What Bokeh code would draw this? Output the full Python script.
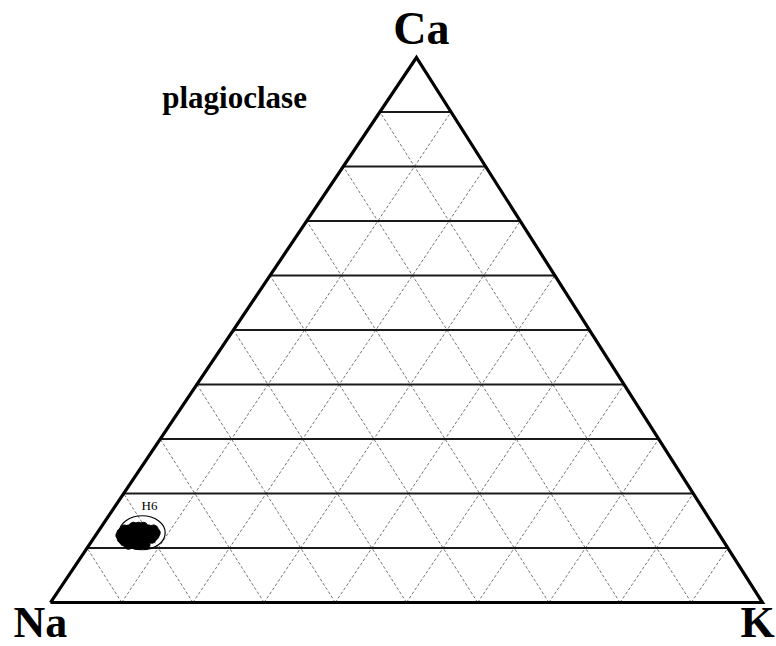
from bokeh.plotting import figure
from bokeh.models import ColumnDataSource
from bokeh.core.properties import value
from bokeh.embed import file_html
from bokeh.resources import INLINE

# Ternary end-members and grid steps (mol %)
vertices = ["Na", "K", "Ca"]
grid_levels = [10, 20, 30, 40, 50, 60, 70, 80, 90]

# H6 chondrite plagioclase analyses: Ca (An) and K (Or) in mol %
h6_ca = [13.9, 13.9, 13.9,
         13.4, 13.4, 13.4, 13.4, 13.4, 13.4, 13.4,
         12.8, 12.8, 12.8, 12.8, 12.8, 12.8, 12.8, 12.8,
         12.3, 12.3, 12.3, 12.3, 12.3, 12.3, 12.3, 12.3,
         11.7, 11.7, 11.7, 11.7, 11.7, 11.7, 11.7,
         11.2, 11.2, 11.2, 11.2, 11.2,
         10.6, 10.6, 10.6, 10.6]
h6_k = [4.5, 5.2, 5.9,
        3.5, 4.1, 4.8, 5.5, 6.2, 6.9, 7.6,
        3.4, 4.0, 4.7, 5.4, 6.1, 6.8, 7.5, 8.2,
        3.5, 4.1, 4.8, 5.5, 6.2, 6.9, 7.6, 8.3,
        4.0, 4.7, 5.4, 6.1, 6.8, 7.5, 8.2,
        4.6, 5.3, 6.0, 6.7, 7.4,
        5.5, 6.5, 7.2, 7.9]
# H6 field outline: centre (Ca, K) in mol %
h6_field_ca = 12.8
h6_field_k = 6.3

APEX = 0.514  # horizontal position of the Ca apex along the Na-K base


def to_xy(ca, k):
    """Ternary (Ca %, K %) -> plot coordinates (Na at origin, K at x=1)."""
    c = ca / 100.0
    kk = k / 100.0
    return kk + APEX * c, c


p = figure(width=776, height=646, output_backend="svg", toolbar_location=None,
           x_range=(-0.0702, 1.0197), y_range=(-0.0807, 1.1046),
           min_border=0, outline_line_color=None)
p.axis.visible = False
p.grid.visible = False
p.background_fill_color = "white"
p.border_fill_color = "white"

# Diagonal grid: constant-K and constant-Na lines
for g in grid_levels:
    x0, y0 = to_xy(0, g)
    x1, y1 = to_xy(100 - g, g)
    p.line([x0, x1], [y0, y1], line_color="#666666", line_width=0.9,
           line_dash="3 2")
    x0, y0 = to_xy(0, 100 - g)
    x1, y1 = to_xy(100 - g, 0)
    p.line([x0, x1], [y0, y1], line_color="#666666", line_width=0.9,
           line_dash="3 2")

# Horizontal grid: constant Ca
for g in grid_levels:
    x0, y0 = to_xy(g, 0)
    x1, y1 = to_xy(g, 100 - g)
    p.line([x0, x1], [y0, y1], line_color="#1a1a1a", line_width=2)

# Triangle outline
tx = [to_xy(0, 0)[0], to_xy(0, 100)[0], to_xy(100, 0)[0], to_xy(0, 0)[0]]
ty = [to_xy(0, 0)[1], to_xy(0, 100)[1], to_xy(100, 0)[1], to_xy(0, 0)[1]]
p.line(tx, ty, line_color="black", line_width=3.2, line_join="miter")

# H6 plagioclase analyses
pts = [to_xy(c, k) for c, k in zip(h6_ca, h6_k)]
src = ColumnDataSource(dict(x=[q[0] for q in pts], y=[q[1] for q in pts]))
p.scatter("x", "y", source=src, size=9, fill_color="black", line_color="black")

# H6 field outline
ex, ey = to_xy(h6_field_ca, h6_field_k)
p.ellipse(x=[ex], y=[ey], width=0.0646, height=0.0624,
          fill_color=None, line_color="black", line_width=1.2)

serif = value("Liberation Serif")
p.text(x=[0.139], y=[0.178], text=["H6"], text_align="center",
       text_baseline="middle", text_font=serif,
       text_font_size="13px", text_color="black")

# Vertex labels
p.text(x=[0.521], y=[1.0532], text=[vertices[2]], text_align="center",
       text_baseline="middle", text_font=serif, text_font_style="bold",
       text_font_size="46px", text_color="black")
p.text(x=[-0.052], y=[-0.0367], text=[vertices[0]], text_align="left",
       text_baseline="middle", text_font=serif, text_font_style="bold",
       text_font_size="44px", text_color="black")
p.text(x=[0.969], y=[-0.0367], text=[vertices[1]], text_align="left",
       text_baseline="middle", text_font=serif, text_font_style="bold",
       text_font_size="44px", text_color="black")

# Mineral name
p.text(x=[0.157], y=[0.9266], text=["plagioclase"], text_align="left",
       text_baseline="middle", text_font=serif, text_font_style="bold",
       text_font_size="31px", text_color="black")

open("out.html", "w").write(file_html(p, INLINE))
